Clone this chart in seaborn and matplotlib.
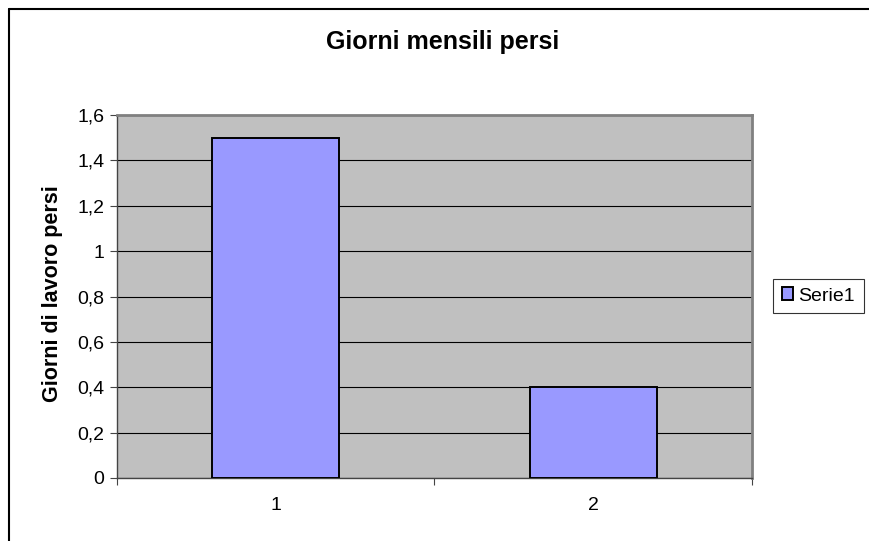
import numpy as np
import pandas as pd
import matplotlib.pyplot as plt
import seaborn as sns
from matplotlib.lines import Line2D

# data
categorie = ["1", "2"]
giorni_persi = [1.5, 0.4]
y_ticks = [0, 0.2, 0.4, 0.6, 0.8, 1.0, 1.2, 1.4, 1.6]
y_tick_labels = ["0", "0,2", "0,4", "0,6", "0,8", "1", "1,2", "1,4", "1,6"]

sns.set_theme(style="white")
plt.rcParams['font.family'] = ['Liberation Sans', 'DejaVu Sans']
plt.rcParams['text.color'] = 'black'
plt.rcParams['xtick.color'] = 'black'
plt.rcParams['ytick.color'] = 'black'

df = pd.DataFrame({"Categoria": categorie, "Giorni": giorni_persi})

W, H = 869, 541
fig = plt.figure(figsize=(W / 100, H / 100), dpi=100)
ax = fig.add_axes([117 / W, (H - 478) / H, 635 / W, 363 / H])
ax.set_facecolor('#C0C0C0')

sns.barplot(data=df, x="Categoria", y="Giorni", color='#9999FF', width=0.4,
            edgecolor='black', linewidth=1.4, saturation=1, ax=ax,
            label="Serie1", zorder=3)

ax.set_ylim(0, 1.6)
ax.set_xlim(-0.5, 1.5)
ax.set_yticks(y_ticks)
ax.set_yticklabels(y_tick_labels, fontsize=14)
ax.yaxis.grid(True, color='black', linewidth=0.8, zorder=1)
ax.set_axisbelow(True)

# category labels centered, ticks at boundaries
ax.set_xticks([0, 1])
ax.set_xticklabels(categorie, fontsize=14)
ax.tick_params(axis='x', length=0, pad=14)
ax.set_xticks([-0.5, 0.5, 1.5], minor=True)
ax.tick_params(axis='x', which='minor', length=5, width=0.8, color='#444444', direction='out', bottom=True)
ax.tick_params(axis='y', length=5, width=0.8, color='#444444', labelcolor='black',
               direction='out', left=True, pad=4)

for side in ['left', 'bottom']:
    ax.spines[side].set_color('#444444')
    ax.spines[side].set_linewidth(1)
for side in ['top', 'right']:
    ax.spines[side].set_color('#808080')
    ax.spines[side].set_linewidth(2)

ax.set_xlabel("")
ax.set_ylabel("")
fig.text(53 / W, 1 - 294 / H, "Giorni di lavoro persi", rotation=90,
         ha='center', va='center', fontsize=15.5, fontweight='bold', color='black')
fig.text(443 / W, 1 - 42 / H, "Giorni mensili persi",
         ha='center', va='center', fontsize=18, fontweight='bold', color='black')

leg = ax.legend(loc='center left', bbox_to_anchor=(773 / W, 1 - 296 / H),
                bbox_transform=fig.transFigure, frameon=True, fancybox=False,
                fontsize=14, handlelength=0.6, handleheight=0.6, handletextpad=0.25,
                borderpad=0.45, borderaxespad=0)
leg.get_frame().set_edgecolor('black')
leg.get_frame().set_linewidth(0.8)
for t in leg.get_texts():
    t.set_color('black')

# chart area border (top and left edges visible)
fig.lines.append(Line2D([9 / W, 1.0], [1 - 9 / H, 1 - 9 / H], transform=fig.transFigure,
                        color='black', linewidth=1.5))
fig.lines.append(Line2D([9 / W, 9 / W], [0, 1 - 9 / H], transform=fig.transFigure,
                        color='black', linewidth=1.5))

fig.savefig("out.png", dpi=100)
